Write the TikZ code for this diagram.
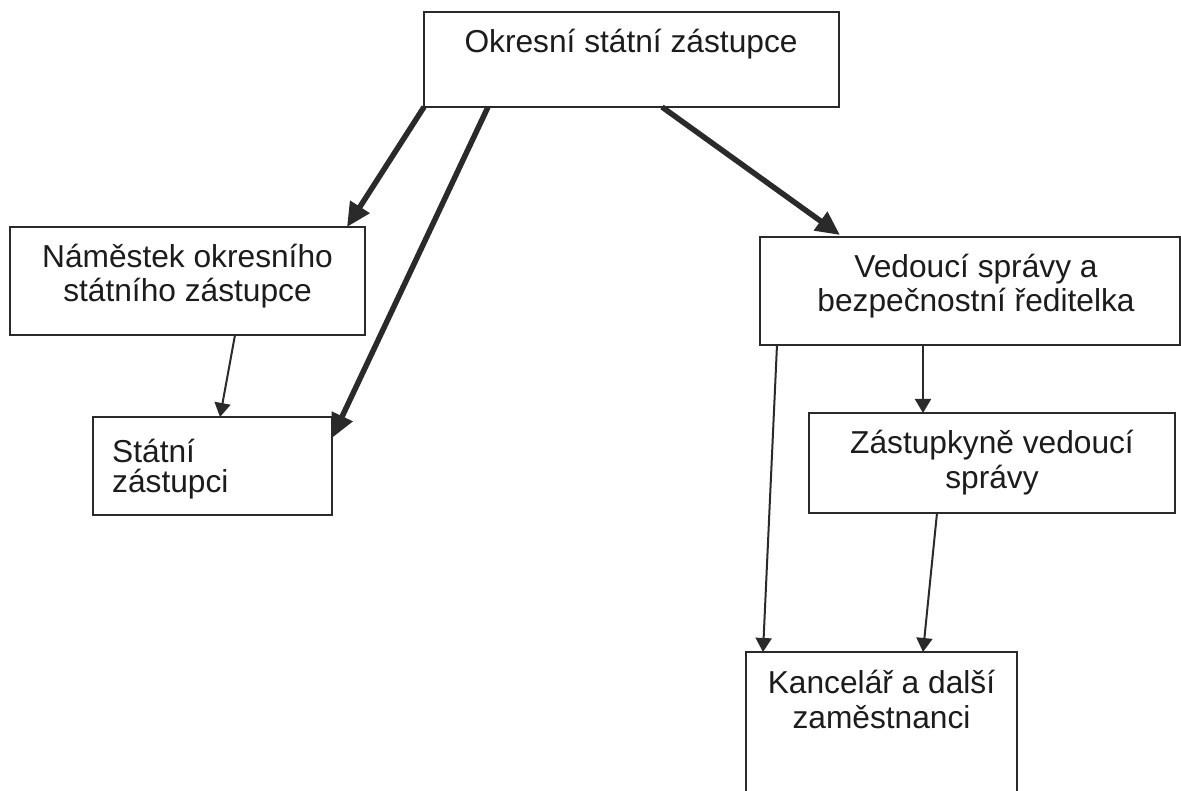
\documentclass[tikz,border=0pt]{standalone}
\usepackage{fontspec}
\setmainfont{Liberation Sans}
\usetikzlibrary{arrows.meta}
\definecolor{ink}{HTML}{2A2A2A}
\definecolor{txtc}{HTML}{1C1C1C}
\begin{document}
\begin{tikzpicture}[x=1pt,y=-1pt,
  box/.style={draw=ink, line width=2.2pt, rectangle, inner sep=0pt, outer sep=0pt, anchor=north west},
  lbl/.style={font=\fontsize{31.7}{34.5}\selectfont, text=txtc, align=center, inner sep=0pt, anchor=base},
  lbll/.style={font=\fontsize{31.7}{31}\selectfont, text=txtc, align=left, inner sep=0pt, anchor=base west},
  thickarrow/.style={draw=ink, line width=5.5pt, -{Triangle[length=24pt,width=22pt]}},
  thinarrow/.style={draw=ink, line width=2pt, -{Triangle[length=14pt,width=16pt]}}]
\clip (0,0) rectangle (1181,791);
\fill[white] (0,0) rectangle (1181,791);

\node[box, minimum width=415pt, minimum height=95pt,
  label={[lbl, xshift=-0.5pt, yshift=-41pt]north:Okresní státní zástupce}] (top) at (424,12) {};
\node[box, minimum width=355pt, minimum height=108pt,
  label={[lbl, yshift=-75pt]north:Náměstek okresního\\státního zástupce}] (nam) at (10,227) {};
\node[box, minimum width=239pt, minimum height=98pt,
  label={[lbll, xshift=19pt, yshift=-76pt]north west:Státní\\zástupci}] (st) at (93,417) {};
\node[box, minimum width=420pt, minimum height=108pt,
  label={[lbl, xshift=6pt, yshift=-75pt]north:Vedoucí správy a\\bezpečnostní ředitelka}] (ved) at (760,237) {};
\node[box, minimum width=366pt, minimum height=100pt,
  label={[lbl, yshift=-75pt]north:Zástupkyně vedoucí\\správy}] (zas) at (809,413) {};
\node[box, minimum width=271pt, minimum height=160pt,
  label={[lbl, yshift=-76pt]north:Kancelář a další\\zaměstnanci}] (kan) at (746,652) {};

\draw[thickarrow] (top.south west) -- ([xshift=-18pt]nam.north east);
\draw[thickarrow] ([xshift=64pt]top.south west) -- ([yshift=-21pt]st.north east);
\draw[thickarrow] ([xshift=238pt]top.south west) -- ([xshift=80pt,yshift=2pt]ved.north west);
\draw[thinarrow] ([xshift=225pt]nam.south west) -- ([xshift=127pt]st.north west);
\draw[thinarrow] ([xshift=163pt]ved.south west) -- ([xshift=114pt]zas.north west);
\draw[thinarrow] ([xshift=17pt]ved.south west) -- ([xshift=17pt]kan.north west);
\draw[thinarrow] ([xshift=128pt]zas.south west) -- ([xshift=177pt]kan.north west);
\end{tikzpicture}
\end{document}
